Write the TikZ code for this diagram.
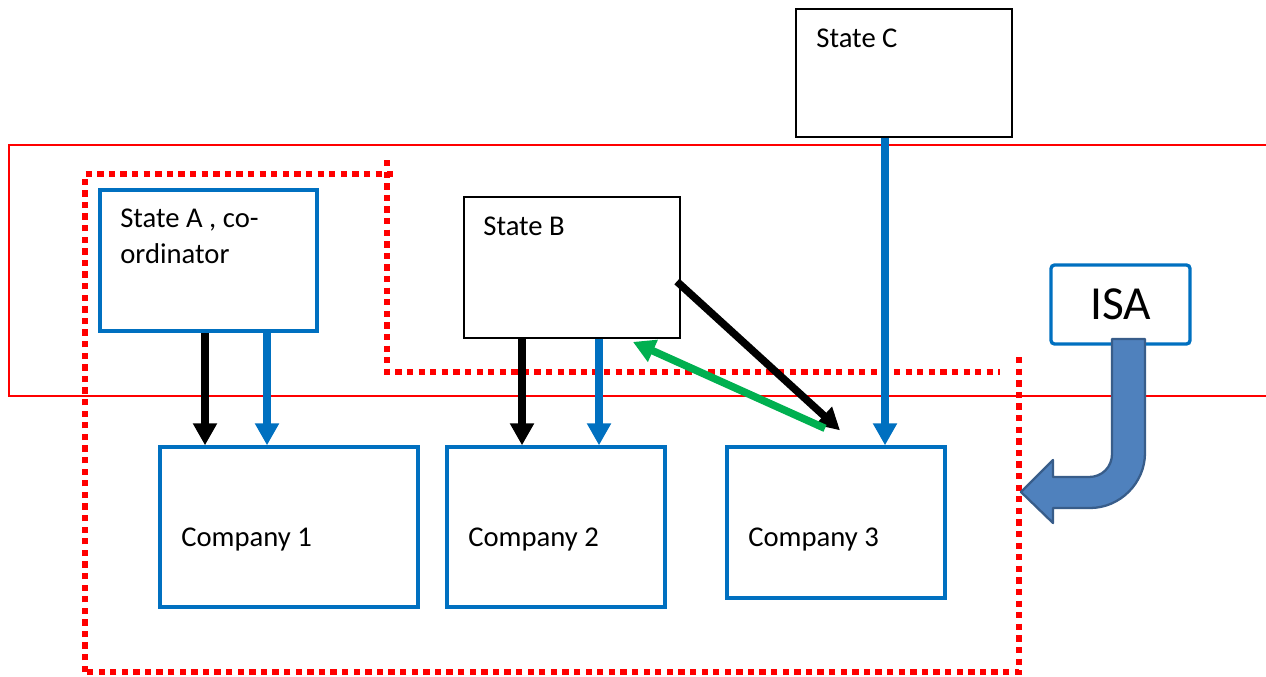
\documentclass[tikz,border=0pt]{standalone}
\usepackage{fontspec}
\setmainfont{Carlito}
\usepackage{tikz}
\usetikzlibrary{calc,positioning,arrows.meta,fit}
\definecolor{boxblue}{HTML}{0070C0}
\definecolor{okgreen}{HTML}{00B050}
\definecolor{isafill}{HTML}{4F81BD}
\definecolor{isaedge}{HTML}{385D8A}

\begin{document}
\begin{tikzpicture}[x=0.02cm,y=-0.02cm,
  bluebox/.style={draw=boxblue,line width=1.9pt,inner sep=0pt},
  blkbox/.style={draw=black,line width=1pt,inner sep=0pt},
  txt/.style={inner sep=0pt,font=\fontsize{16.3}{20.4}\selectfont,anchor=base west,align=left},
  arr/.style={line width=4.3pt,-{Triangle[length=12.5pt,width=13pt]}},
  dots/.style={draw=red,line width=3pt,dash pattern=on 3.6pt off 3pt}]
  \useasboundingbox (0,0) rectangle (1266,676);

  % band of the states
  \draw[red,line width=0.9pt] (1270,145) -- (9,145) -- (9,396) -- (1270,396);

  % boxes
  \node[blkbox,fit={(796,9) (1012,137)}] (stC) {};
  \node[blkbox,fit={(464,197) (680,338)}] (stB) {};
  \node[bluebox,fit={(100,190) (317,331)}] (stA) {};
  \node[bluebox,fit={(160,447) (418,607)}] (co1) {};
  \node[bluebox,fit={(447,447) (665,607)}] (co2) {};
  \node[bluebox,fit={(727,447) (945,598)}] (co3) {};
  \node[bluebox,rounded corners=2pt,minimum width=2.78cm,minimum height=1.58cm,
        font=\fontsize{27}{30}\selectfont] (isa) at (1120.5,304.5) {ISA};

  % texts
  \node[txt] (tC) at (816,47) {State C};
  \node[txt] (tB) at (483,235) {State B};
  \node[txt] (tA) at (120,263) {State A , co-\\ordinator};
  \node[txt] (t1) at (181,546) {Company 1};
  \node[txt] (t2) at (468,546) {Company 2};
  \node[txt] (t3) at (748,546) {Company 3};

  % group
  \draw[dots] (85,672) -- (85,174) -- (395,174);
  \draw[dots] (387,160) -- (387,372) -- (1000,372);
  \draw[dots] (1019,357) -- (1019,672) -- (85,672);

  % arrows
  \draw[arr] (205,0 |- stA.south) -- (205,0 |- co1.north);
  \draw[arr,boxblue] (267,0 |- stA.south) -- (267,0 |- co1.north);
  \draw[arr] (522,0 |- stB.south) -- (522,0 |- co2.north);
  \draw[arr,boxblue] (599,0 |- stB.south) -- (599,0 |- co2.north);
  \draw[arr,boxblue] (885,0 |- stC.south) -- (885,0 |- co3.north);
  \draw[arr] ($(stB.east)+(-4,14)$) -- ($(co3.north)+(4,-15)$);
  \draw[arr,okgreen] ($(co3.north)+(-11,-17)$) -- ($(stB.south east)+(-48,3)$);

  % ISA bent arrow
  \draw[draw=isaedge,fill=isafill,line width=1.3pt,line join=round]
    (1112,339) -- (1145,339) -- (1145,453)
    .. controls (1145,483) and (1120,508) .. (1090,508)
    -- (1053,508) -- (1053,523) -- (1021,492) -- (1053,460) -- (1053,477) -- (1089,477)
    .. controls (1102,477) and (1112,467) .. (1112,454) -- cycle;
\end{tikzpicture}
\end{document}
